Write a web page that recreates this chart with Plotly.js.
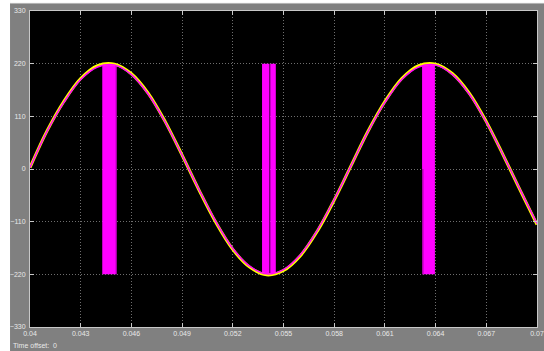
<!DOCTYPE html>
<html>
<head>
<meta charset="utf-8">
<script src="https://cdn.plot.ly/plotly-3.0.1.min.js"></script>
<style>html,body{margin:0;padding:0;background:#fff;}#chart{width:544px;height:351px;}</style>
</head>
<body>
<div id="chart"></div>
<script>
// time samples (s)
var time = [0.040,0.041,0.042,0.043,0.044,0.045,0.046,0.047,0.048,0.049,
            0.050,0.051,0.052,0.053,0.054,0.055,0.056,0.057,0.058,0.059,
            0.060,0.061,0.062,0.063,0.064,0.065,0.066,0.067,0.068,0.069,0.070];
// yellow trace (voltage)
var voltageA = [3,79,141,189,216,219,199,158,99,29,
                -44,-112,-168,-205,-221,-212,-181,-130,-65,7,
                79,141,189,216,219,199,158,99,29,-44,-116];
// magenta trace
var voltageB = [3,78,139,187,213,217,197,156,98,29,
                -43,-110,-166,-203,-219,-210,-179,-128,-64,7,
                78,139,187,213,217,197,156,98,29,-43,-114];
// pulse blocks
var pulseCenter = [0.04470, 0.05394, 0.05438, 0.06358];
var pulseWidth  = [0.00085, 0.00042, 0.00033, 0.00076];
var pulseLow  = -220;
var pulseHigh = 220;
// darker pulse edges
var edgeCenter = [0.04510, 0.05418, 0.06324];
var edgeWidth  = [0.00006, 0.00004, 0.00008];
var edgeBase   = [-220, -220, -220];
var edgeHeight = [440, 440, 220];

var xTicks = [0.04,0.043,0.046,0.049,0.052,0.055,0.058,0.061,0.064,0.067,0.07];
var xTickText = ['0.04','0.043','0.046','0.049','0.052','0.055','0.058','0.061','0.064','0.067','0.07'];
var yTicks = [-330,-220,-110,0,110,220,330];

var pulseHeights = pulseCenter.map(function(){return pulseHigh - pulseLow;});
var pulseBases = pulseCenter.map(function(){return pulseLow;});

var traces = [
  {type:'bar', x:pulseCenter, y:pulseHeights, base:pulseBases, width:pulseWidth,
   marker:{color:'#ff00ff', line:{width:0}}, hoverinfo:'skip', showlegend:false},
  {type:'bar', x:edgeCenter, y:edgeHeight, base:edgeBase, width:edgeWidth,
   marker:{color:'#a000a0', line:{width:0}}, hoverinfo:'skip', showlegend:false},
  {type:'scatter', mode:'lines', x:time, y:voltageA,
   line:{color:'#ffff00', width:3, shape:'spline'}, hoverinfo:'skip', showlegend:false},
  {type:'scatter', mode:'lines', x:time, y:voltageB,
   line:{color:'#ff00ff', width:1.5, shape:'spline'}, hoverinfo:'skip', showlegend:false}
];

var axisCommon = {
  showline:true, linecolor:'#c8c8c8', linewidth:1, mirror:'ticks',
  ticks:'inside', ticklen:4, tickcolor:'#c8c8c8', tickwidth:1,
  showgrid:true, gridcolor:'#6e6e6e', griddash:'1px,2px', gridwidth:1,
  zeroline:false, tickfont:{family:'Liberation Sans, Arial, sans-serif', size:7, color:'#e8e8e8'}
};

var layout = {
  width:544, height:351,
  margin:{l:30, r:7, t:11, b:24, pad:0},
  paper_bgcolor:'#808080', plot_bgcolor:'#000000',
  barmode:'overlay',
  showlegend:false,
  xaxis:Object.assign({}, axisCommon, {range:[0.04,0.07], tickmode:'array', tickvals:xTicks, ticktext:xTickText}),
  yaxis:Object.assign({}, axisCommon, {range:[-330,330], tickmode:'array', tickvals:yTicks, ticklabelstandoff:2}),
  shapes:[
    {type:'rect', xref:'paper', yref:'paper', x0:-0.0600, x1:-0.0394, y0:-0.08, y1:1.04,
     fillcolor:'#ffffff', line:{width:0}, layer:'above'},
    {type:'rect', xref:'paper', yref:'paper', x0:-0.0394, x1:1.02, y0:1.0253, y1:1.04,
     fillcolor:'#ffffff', line:{width:0}, layer:'above'},
    {type:'line', xref:'paper', yref:'paper', x0:-0.0394, x1:1.02, y0:1.0240, y1:1.0240,
     line:{color:'#b8b8b8', width:1}, layer:'above'}
  ],
  annotations:[
    {xref:'paper', yref:'paper', x:-0.0375, y:-0.057, xanchor:'left', yanchor:'middle',
     text:'Time offset:  0', showarrow:false,
     font:{family:'Liberation Sans, Arial, sans-serif', size:7, color:'#e8e8e8'}}
  ]
};

Plotly.newPlot('chart', traces, layout, {staticPlot:true, displayModeBar:false});
</script>
</body>
</html>
